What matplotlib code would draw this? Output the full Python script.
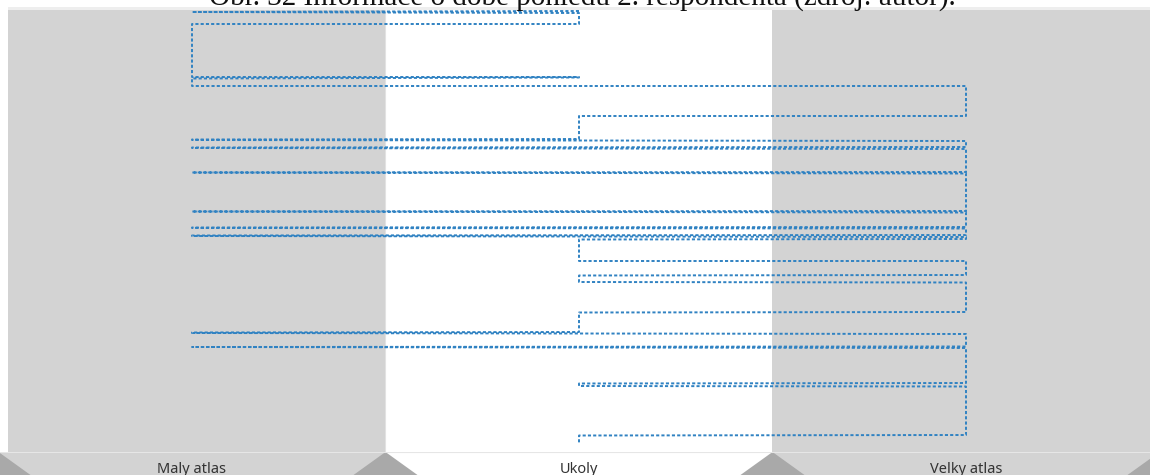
import matplotlib
matplotlib.use("Agg")
import matplotlib.pyplot as plt
from matplotlib.patches import Polygon, Rectangle

# areas of interest (columns)
aoi_labels = ['Maly atlas', 'Ukoly', 'Velky atlas']

# fixation sequence: AOI index, start and end time (time runs downward)
fix_aoi = [1, 0, 1, 0, 1, 0, 2, 1, 0, 2, 0, 2, 0, 2, 0, 2, 0, 2, 0, 2,
           1, 2, 1, 2, 1, 0, 2, 0, 2, 1, 2, 1]
fix_start = [11, 12, 13, 24, 77, 78.5, 86, 116, 139.5, 141, 147.5, 149, 172.5, 173.5,
             211.5, 212.5, 227.5, 228.5, 235.5, 237, 239.5, 261, 275.5, 282.5,
             312.5, 332.5, 334, 347, 348, 383.5, 386.5, 435.5]
fix_end = [11, 12, 24, 77, 77.5, 86, 116, 139, 140, 147, 148, 172, 172.5, 211,
           211.5, 227, 228, 235, 236, 239, 261, 275, 282, 312,
           332, 333, 346.5, 347, 383, 386, 435, 443]

W, H = 1150, 475
fig = plt.figure(figsize=(W / 100, H / 100), dpi=100)

# px -> data for x: column centres at 192, 579, 966 px
def px_to_x(px):
    return (px - 579) / 387 + 1

# main panel
ax = fig.add_axes([8 / W, 23 / H, 1142 / W, 442 / H])
ax.set_xlim(px_to_x(8), px_to_x(1150))
ax.set_ylim(452, 10)
ax.axvspan(-0.5, 0.5, color='#d3d3d3', lw=0)
ax.axvspan(1.5, 2.5, color='#d3d3d3', lw=0)
ax.axvline(0.5, color='#e2e2e2', lw=0.8)

xs, ys = [], []
for a, s, e in zip(fix_aoi, fix_start, fix_end):
    xs += [a, a]
    ys += [s, e]
ax.plot(xs, ys, color='#3082c2', lw=1.4, ls=(0, (1.6, 1.1)))
ax.axis('off')

# bottom tab band with labels
axb = fig.add_axes([0, 0, 1, 23 / H])
axb.set_xlim(px_to_x(0), px_to_x(1150))
axb.set_ylim(0, 1)
axb.axvspan(-0.6, 0.5, color='#d3d3d3', lw=0)
axb.axvspan(1.5, 2.6, color='#d3d3d3', lw=0)
tri_w = 32 / 387
for b in [-0.5, 0.5, 1.5, 2.5]:
    axb.add_patch(Polygon([(b - tri_w, 0), (b, 1), (b + tri_w, 0)],
                          closed=True, color='#a9a9a9', lw=0))
axb.axhline(1, color='#e6e6e6', lw=1.5)
for i, lab in enumerate(aoi_labels):
    axb.text(i, 0.08, lab, ha='center', va='baseline', fontsize=10.5,
             family='Noto Sans', color='#333333')
axb.axis('off')

# top strip and clipped caption
fig.patches.append(Rectangle((8 / W, (H - 10) / H), 1, 3.5 / H,
                             transform=fig.transFigure, color='#eeeeee', lw=0))
fig.text(582 / W, 1 - 5 / H,
         'Obr. 32 Informace o době pohledu 2. respondenta (zdroj: autor).',
         ha='center', va='baseline', fontsize=21, family='Liberation Serif',
         color='#111111')

fig.savefig('out.png', dpi=100)
